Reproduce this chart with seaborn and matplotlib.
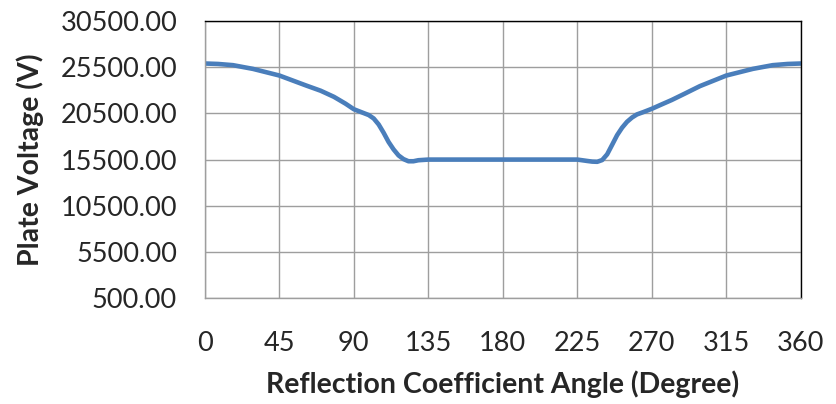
import matplotlib
matplotlib.use("Agg")
import pandas as pd
import matplotlib.pyplot as plt
import seaborn as sns

# values
angle = [0, 8, 17, 29, 45, 61, 70, 78, 85, 90, 95, 99, 102, 105, 108, 111, 114, 117, 120, 123, 126, 129, 135,
         180,
         225, 231, 234, 237, 240, 243, 246, 249, 252, 255, 258, 261, 265, 270, 275, 282, 290, 299, 315, 331, 343, 352, 360]
voltage = [25900, 25850, 25720, 25320, 24600, 23530, 22950, 22290, 21550, 20950, 20600, 20320, 19950, 19300, 18400, 17400, 16600, 15950, 15550, 15320, 15320, 15430, 15500,
           15500,
           15500, 15350, 15280, 15260, 15450, 16070, 17100, 18140, 18950, 19590, 20050, 20390, 20650, 21000, 21400, 21950, 22650, 23450, 24600, 25320, 25720, 25850, 25900]
xticks = [0, 45, 90, 135, 180, 225, 270, 315, 360]
yticks = [500, 5500, 10500, 15500, 20500, 25500, 30500]

df = pd.DataFrame({"angle": angle, "voltage": voltage})

sns.set_style("white")
plt.rcParams["font.family"] = ["Lato", "DejaVu Sans"]

fig = plt.figure(figsize=(8.36, 4.04), dpi=100)
ax = fig.add_axes([0.245, 0.262, 0.713, 0.686])

sns.lineplot(data=df, x="angle", y="voltage", ax=ax, color="#4A7EBB", linewidth=3.3)
ax.lines[0].set_solid_joinstyle("round")
ax.lines[0].set_solid_capstyle("round")

ax.set_xlim(0, 360)
ax.set_ylim(500, 30500)
ax.set_xticks(xticks)
ax.set_yticks(yticks)
ax.set_yticklabels([f"{v:.2f}" for v in yticks])
ax.grid(True, color="#9E9E9E", linewidth=1.0)
ax.set_axisbelow(True)
ax.tick_params(axis="x", labelsize=19.5, pad=24, length=0)
ax.tick_params(axis="y", labelsize=19.5, pad=20, length=0)
for s in ["left", "bottom"]:
    ax.spines[s].set_color("#9E9E9E")
    ax.spines[s].set_linewidth(1.0)
for s in ["top", "right"]:
    ax.spines[s].set_color("black")
    ax.spines[s].set_linewidth(1.0)

ax.set_xlabel("Reflection Coefficient Angle (Degree)", fontsize=20.5, fontweight="bold", labelpad=10)
ax.set_ylabel("Plate Voltage (V)", fontsize=20.5, fontweight="bold", labelpad=12)

fig.savefig("out.png", dpi=100)
